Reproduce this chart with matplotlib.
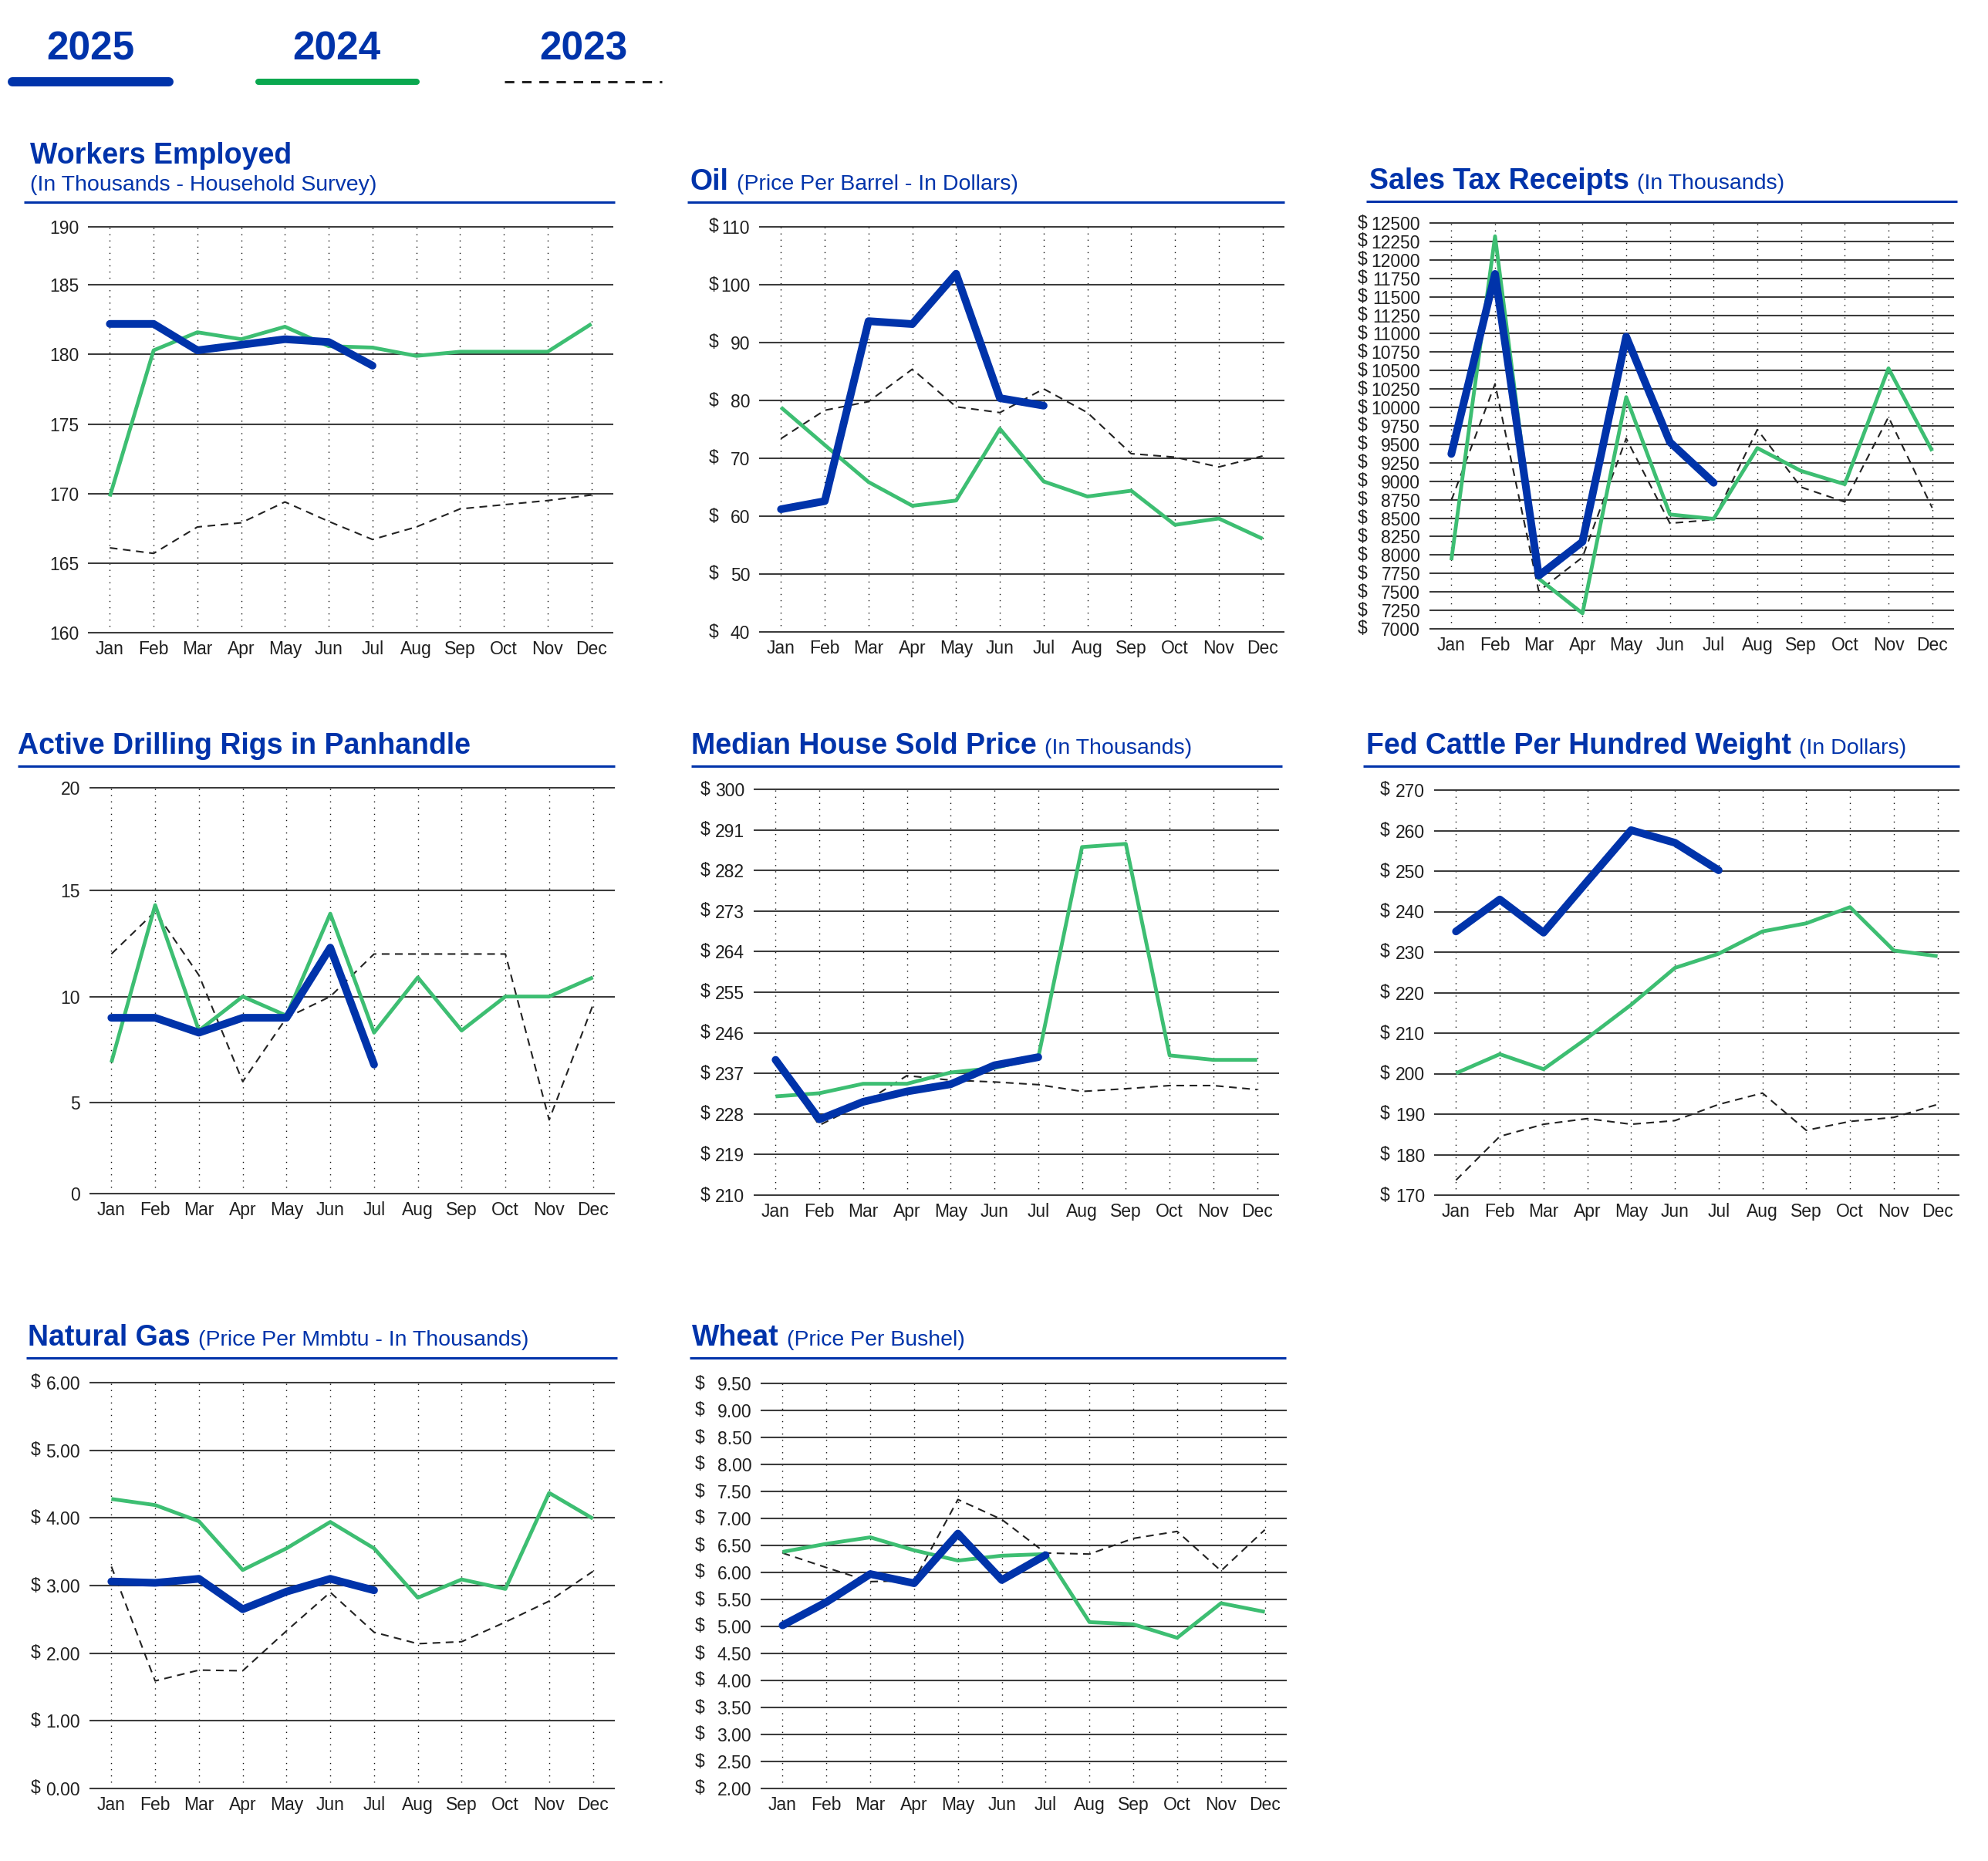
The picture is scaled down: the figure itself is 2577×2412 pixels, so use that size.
import matplotlib
matplotlib.use('Agg')
import matplotlib.pyplot as plt
from matplotlib.lines import Line2D
from matplotlib import transforms

plt.rcParams['font.family'] = ['Liberation Sans', 'DejaVu Sans']

W, H = 2577, 2412
DPI = 100

BLUE = '#0033AA'
GREEN = '#3DBE72'
LEG_GREEN = '#0AA84F'
DASH = '#222222'
TXT = '#1f1f1f'

months = ['Jan', 'Feb', 'Mar', 'Apr', 'May', 'Jun', 'Jul', 'Aug', 'Sep', 'Oct', 'Nov', 'Dec']
legend_years = ['2025', '2024', '2023']

# ---------------- data ----------------
workers_2025 = [182.2, 182.2, 180.3, 180.7, 181.1, 180.9, 179.2]
workers_2024 = [169.8, 180.3, 181.6, 181.1, 182.0, 180.6, 180.5, 179.9, 180.2, 180.2, 180.2, 182.2]
workers_2023 = [166.1, 165.7, 167.6, 167.9, 169.4, 168.0, 166.7, 167.6, 168.9, 169.2, 169.5, 169.9]
workers_ticks = [160, 165, 170, 175, 180, 185, 189.18]
workers_labels = ['160', '165', '170', '175', '180', '185', '190']

oil_2025 = [61.2, 62.6, 93.7, 93.2, 101.9, 80.4, 79.1]
oil_2024 = [78.8, 72.3, 65.9, 61.8, 62.7, 75.1, 66.0, 63.4, 64.4, 58.5, 59.6, 56.1]
oil_2023 = [73.4, 78.3, 79.8, 85.4, 78.9, 77.9, 82.0, 77.9, 70.8, 70.2, 68.5, 70.4]
oil_ticks = [40, 50, 60, 70, 80, 90, 100, 110]
oil_labels = ['40', '50', '60', '70', '80', '90', '100', '110']

sales_2025 = [9370, 11810, 7720, 8180, 10960, 9530, 8980]
sales_2024 = [7930, 12320, 7680, 7210, 10140, 8550, 8490, 9450, 9140, 8960, 10530, 9410]
sales_2023 = [8740, 10320, 7510, 7970, 9580, 8430, 8480, 9700, 8920, 8720, 9870, 8640]
sales_ticks = list(range(7000, 12501, 250))
sales_labels = [str(v) for v in sales_ticks]

rigs_2025 = [9.0, 9.0, 8.3, 9.0, 9.0, 12.3, 6.8]
rigs_2024 = [6.9, 14.3, 8.4, 10.0, 9.1, 13.9, 8.3, 10.9, 8.4, 10.0, 10.0, 10.9]
rigs_2023 = [12.0, 14.0, 11.0, 6.0, 9.0, 10.0, 12.0, 12.0, 12.0, 12.0, 4.2, 9.6]
rigs_ticks = [0.73, 5, 10, 15, 19.82]
rigs_labels = ['0', '5', '10', '15', '20']

house_2025 = [240.0, 226.8, 230.7, 233.0, 234.6, 238.8, 240.6]
house_2024 = [231.9, 232.6, 234.7, 234.7, 237.2, 238.2, 240.5, 287.2, 287.9, 241.0, 240.0, 240.0]
house_2023 = [239.5, 225.5, 230.4, 236.5, 235.5, 235.1, 234.5, 233.0, 233.6, 234.3, 234.3, 233.4]
house_ticks = [210, 219, 228, 237, 246, 255, 264, 273, 282, 291, 300]
house_labels = ['210', '219', '228', '237', '246', '255', '264', '273', '282', '291', '300']

cattle_2025 = [235.1, 243.0, 234.8, 247.5, 260.1, 257.0, 250.2]
cattle_2024 = [200.1, 204.8, 201.1, 208.8, 217.0, 226.1, 229.6, 235.1, 237.1, 241.1, 230.4, 229.0]
cattle_2023 = [173.7, 184.5, 187.5, 188.9, 187.5, 188.4, 192.4, 195.2, 186.0, 188.2, 189.2, 192.4]
cattle_ticks = [170, 180, 190, 200, 210, 220, 230, 240, 250, 260, 270]
cattle_labels = ['170', '180', '190', '200', '210', '220', '230', '240', '250', '260', '270']

gas_2025 = [3.06, 3.04, 3.10, 2.65, 2.91, 3.10, 2.93]
gas_2024 = [4.28, 4.19, 3.95, 3.23, 3.55, 3.94, 3.55, 2.82, 3.09, 2.95, 4.37, 3.99]
gas_2023 = [3.28, 1.59, 1.75, 1.74, 2.33, 2.90, 2.31, 2.14, 2.17, 2.46, 2.77, 3.21]
gas_ticks = [0, 1, 2, 3, 4, 5, 6]
gas_labels = ['0.00', '1.00', '2.00', '3.00', '4.00', '5.00', '6.00']

wheat_2025 = [5.02, 5.45, 5.97, 5.80, 6.72, 5.86, 6.32]
wheat_2024 = [6.38, 6.53, 6.65, 6.41, 6.22, 6.31, 6.34, 5.08, 5.04, 4.79, 5.43, 5.27]
wheat_2023 = [6.36, 6.09, 5.83, 5.85, 7.35, 6.98, 6.36, 6.34, 6.63, 6.76, 6.03, 6.79]
wheat_ticks = [2.0, 2.5, 3.0, 3.5, 4.0, 4.5, 5.0, 5.5, 6.0, 6.5, 7.0, 7.5, 8.0, 8.5, 9.0, 9.5]
wheat_labels = ['2.00', '2.50', '3.00', '3.50', '4.00', '4.50', '5.00', '5.50',
                '6.00', '6.50', '7.00', '7.50', '8.00', '8.50', '9.00', '9.50']

# ---------------- layout (pixels) ----------------
fig = plt.figure(figsize=(W / DPI, H / DPI), dpi=DPI)
fig.patch.set_facecolor('white')


def fx(x):
    return x / W


def fy(y):
    return 1 - y / H


def fig_line(x0, x1, y, **kw):
    fig.add_artist(Line2D([fx(x0), fx(x1)], [fy(y), fy(y)], transform=fig.transFigure, **kw))


renderer = fig.canvas.get_renderer()

panels = [
    dict(title='Workers Employed', sub='(In Thousands - Household Survey)', newline=True,
         tx=39, tb=212, sb=247, ul=(31, 797, 262), rect=(114, 795, 294, 820),
         d=(workers_2025, workers_2024, workers_2023), ticks=workers_ticks, labels=workers_labels, dollar=None),
    dict(title='Oil', sub='(Price Per Barrel - In Dollars)', newline=False,
         tx=895, tb=246, ul=(891, 1665, 262), rect=(984, 1665, 294, 819),
         d=(oil_2025, oil_2024, oil_2023), ticks=oil_ticks, labels=oil_labels, dollar=65),
    dict(title='Sales Tax Receipts', sub='(In Thousands)', newline=False,
         tx=1775, tb=245, ul=(1771, 2537, 261), rect=(1853, 2533, 289, 815),
         d=(sales_2025, sales_2024, sales_2023), ticks=sales_ticks, labels=sales_labels, dollar=93),
    dict(title='Active Drilling Rigs in Panhandle', sub=None, newline=False,
         tx=23, tb=977, ul=(23, 797, 993), rect=(116, 797, 1021, 1547),
         d=(rigs_2025, rigs_2024, rigs_2023), ticks=rigs_ticks, labels=rigs_labels, dollar=None),
    dict(title='Median House Sold Price', sub='(In Thousands)', newline=False,
         tx=896, tb=977, ul=(896, 1662, 993), rect=(977, 1658, 1023, 1549),
         d=(house_2025, house_2024, house_2023), ticks=house_ticks, labels=house_labels, dollar=69),
    dict(title='Fed Cattle Per Hundred Weight', sub='(In Dollars)', newline=False,
         tx=1771, tb=977, ul=(1767, 2540, 993), rect=(1859, 2540, 1024, 1549),
         d=(cattle_2025, cattle_2024, cattle_2023), ticks=cattle_ticks, labels=cattle_labels, dollar=70),
    dict(title='Natural Gas', sub='(Price Per Mmbtu - In Thousands)', newline=False,
         tx=36, tb=1744, ul=(34, 800, 1760), rect=(116, 797, 1792, 2318),
         d=(gas_2025, gas_2024, gas_2023), ticks=gas_ticks, labels=gas_labels, dollar=76),
    dict(title='Wheat', sub='(Price Per Bushel)', newline=False,
         tx=897, tb=1744, ul=(894, 1667, 1760), rect=(986, 1668, 1793, 2318),
         d=(wheat_2025, wheat_2024, wheat_2023), ticks=wheat_ticks, labels=wheat_labels, dollar=85),
]

TITLE_FS = 27
SUB_FS = 20.5
TICK_FS = 16.5

for p in panels:
    # title
    t = fig.text(fx(p['tx']), fy(p['tb']), p['title'], fontsize=TITLE_FS, fontweight='bold',
                 color=BLUE, ha='left', va='baseline')
    if p['sub']:
        if p['newline']:
            fig.text(fx(p['tx']), fy(p['sb']), p['sub'], fontsize=SUB_FS, color=BLUE,
                     ha='left', va='baseline')
        else:
            bb = t.get_window_extent(renderer)
            fig.text(fx(bb.x1 + 10), fy(p['tb']), p['sub'], fontsize=SUB_FS, color=BLUE,
                     ha='left', va='baseline')
    ux0, ux1, uy = p['ul']
    fig_line(ux0, ux1, uy, color=BLUE, lw=2.2, solid_capstyle='butt')

    x0, x1, y0, y1 = p['rect']
    ax = fig.add_axes([fx(x0), fy(y1), (x1 - x0) / W, (y1 - y0) / H])
    ax.set_facecolor('none')
    ticks = p['ticks']
    lo, hi = ticks[0], ticks[-1]
    ax.set_xlim(-0.5, 11.5)
    ax.set_ylim(lo, hi)
    for s in ax.spines.values():
        s.set_visible(False)
    ax.set_xticks(range(12))
    ax.set_xticklabels(months, fontsize=TICK_FS, color=TXT)
    ax.set_yticks(ticks)
    ax.set_yticklabels(p['labels'], fontsize=TICK_FS, color=TXT)
    ax.tick_params(axis='both', length=0)
    ax.tick_params(axis='y', pad=8.5)
    ax.tick_params(axis='x', pad=7)

    ax.vlines(range(12), lo, hi, colors='#111111', lw=1.0, linestyles=(0, (1, 4.8)), zorder=0.5)
    ax.hlines(ticks, -0.5, 11.5, colors='#3c3c3c', lw=1.5, clip_on=False, zorder=1)

    d25, d24, d23 = p['d']
    ax.plot(range(len(d23)), d23, color=DASH, lw=1.5, dashes=(4.8, 3.4), zorder=2, clip_on=False)
    ax.plot(range(len(d24)), d24, color=GREEN, lw=3.5, zorder=3, solid_joinstyle='round',
            solid_capstyle='butt', clip_on=False)
    ax.plot(range(len(d25)), d25, color=BLUE, lw=7.2, zorder=4, solid_joinstyle='round',
            solid_capstyle='round', clip_on=False)

    if p['dollar'] is not None:
        tr = transforms.blended_transform_factory(fig.transFigure, ax.transData)
        for v in ticks:
            ax.text(fx(x0 - p['dollar']), v, '$', transform=tr, fontsize=TICK_FS, color=TXT,
                    ha='left', va='center', clip_on=False)

# ---------------- legend ----------------
leg_text_x = [117, 436, 756]
for yr, cx in zip(legend_years, leg_text_x):
    fig.text(fx(cx), fy(77), yr, fontsize=37, fontweight='bold', color=BLUE, ha='center', va='baseline')
fig_line(16, 219, 106, color=BLUE, lw=8.6, solid_capstyle='round')
fig_line(335, 540, 106, color=LEG_GREEN, lw=5.8, solid_capstyle='round')
fig_line(654, 858, 106, color=DASH, lw=2.2, dashes=(4, 3.3))

fig.savefig('out.png', dpi=DPI, facecolor='white')
